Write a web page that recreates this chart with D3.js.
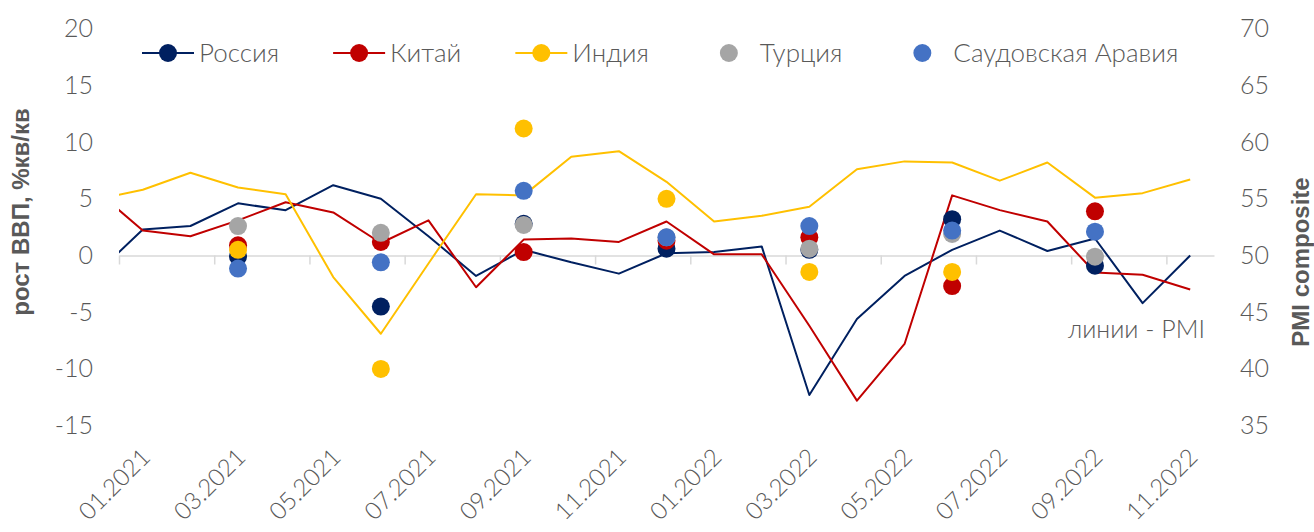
<!DOCTYPE html>
<html>
<head>
<meta charset="utf-8">
<script src="https://cdn.jsdelivr.net/npm/d3@7"></script>
<style>
  body { margin: 0; background: #fff; }
  #graf { width: 1314px; height: 532px; }
  .thin { font-family: Lato, 'Open Sans', sans-serif; font-weight: 300; fill: #595959; }
  .titulo { font-family: 'Liberation Sans', Arial, sans-serif; font-weight: bold; fill: #595959; }
</style>
</head>
<body>
<div id="graf"></div>
<script>
// I. Datos
months = ['01.2021', '02.2021', '03.2021', '04.2021', '05.2021', '06.2021', '07.2021', '08.2021',
          '09.2021', '10.2021', '11.2021', '12.2021', '01.2022', '02.2022', '03.2022', '04.2022',
          '05.2022', '06.2022', '07.2022', '08.2022', '09.2022', '10.2022', '11.2022']
// PMI empieza un mes antes (12.2020), la línea se corta en el borde
pmiMonths = ['12.2020'].concat(months)

pmiRussia = [48.3, 52.3, 52.6, 54.6, 54.0, 56.2, 55.0, 51.7, 48.2, 50.5, 49.4, 48.4, 50.2,
             50.3, 50.8, 37.7, 44.4, 48.2, 50.5, 52.2, 50.4, 51.5, 45.8, 50.0]
pmiChina  = [55.8, 52.2, 51.7, 53.1, 54.7, 53.8, 51.1, 53.1, 47.2, 51.4, 51.5, 51.2, 53.0,
             50.1, 50.1, 43.8, 37.2, 42.2, 55.3, 54.0, 53.0, 48.5, 48.3, 47.0]
pmiIndia  = [54.9, 55.8, 57.3, 56.0, 55.4, 48.1, 43.1, 49.3, 55.4, 55.3, 58.7, 59.2, 56.5,
             53.0, 53.5, 54.3, 57.6, 58.3, 58.2, 56.6, 58.2, 55.1, 55.5, 56.7]

quarters = ['03.2021', '06.2021', '09.2021', '12.2021', '03.2022', '06.2022', '09.2022']
gdpRussia = [-0.1, -4.5, 2.8, 0.6, 0.5, 3.2, -0.9]
gdpChina  = [0.9, 1.2, 0.3, 1.3, 1.6, -2.7, 3.9]
gdpIndia  = [0.5, -10.0, 11.2, 5.0, -1.45, -1.45, null]
gdpTurkey = [2.6, 2.0, 2.7, 1.6, 0.6, 1.9, -0.1]
gdpSaudi  = [-1.15, -0.6, 5.7, 1.6, 2.6, 2.2, 2.1]

leftTicks  = [20, 15, 10, 5, 0, -5, -10, -15]
rightTicks = [70, 65, 60, 55, 50, 45, 40, 35]
labelMonths = months.filter((m, i) => i % 2 == 0)

seriesNames = ['Россия', 'Китай', 'Индия', 'Турция', 'Саудовская Аравия']

// II. Configuración
colores = ['#002060', '#C00000', '#FFC000', '#A5A5A5', '#4472C4']

ancho_total = 1314
alto_total = 532
margins = { top: 28.7, left: 119, right: 100, bottom: 106.4 }
ancho = ancho_total - margins.left - margins.right
alto  = alto_total - margins.top - margins.bottom

graf = d3.select('#graf')
svg = graf.append('svg')
          .attr('width', ancho_total)
          .attr('height', alto_total)

g = svg.append('g')
       .attr('transform', `translate(${ margins.left }, ${ margins.top })`)

// escala x por índice de mes: las categorías van "entre marcas"
x = d3.scaleLinear()
      .domain([-0.5, months.length - 0.5])
      .range([0, ancho])
xMonth = m => x(months.indexOf(m))
xPmi = m => x(pmiMonths.indexOf(m) - 1)

yL = d3.scaleLinear().domain([-15, 20]).range([alto, 0])
yR = d3.scaleLinear().domain([35, 70]).range([alto, 0])

// III. Ejes
// guion normal en vez del signo menos de d3
formato = d => String(d)

ejeIzq = g.append('g')
  .attr('class', 'thin')
  .call(d3.axisLeft(yL).tickValues(leftTicks).tickFormat(formato).tickSize(0).tickPadding(26))
ejeIzq.select('.domain').remove()

ejeDer = g.append('g')
  .attr('class', 'thin')
  .attr('transform', `translate(${ ancho }, 0)`)
  .call(d3.axisRight(yR).tickValues(rightTicks).tickFormat(formato).tickSize(0).tickPadding(26))
ejeDer.select('.domain').remove()

svg.selectAll('.thin .tick text')
   .attr('font-family', null)
   .attr('font-size', 25)
   .attr('fill', '#595959')

// eje de categorías sobre el cero, marcas cada 2 meses
boundaries = labelMonths.map(m => months.indexOf(m) - 0.5)
ejeX = g.append('g')
  .attr('transform', `translate(0, ${ yL(0) })`)
  .call(d3.axisBottom(x).tickValues(boundaries).tickSizeInner(9).tickSizeOuter(0).tickFormat(''))
ejeX.selectAll('path, line').attr('stroke', '#D9D9D9').attr('stroke-width', 1.5)

// etiquetas abajo (posición "baja")
g.append('g')
  .selectAll('text')
  .data(labelMonths)
  .enter()
  .append('text')
    .attr('class', 'thin')
    .attr('font-size', 24)
    .attr('text-anchor', 'end')
    .attr('transform', d => `translate(${ xMonth(d) + 9 }, ${ alto + 33 }) rotate(-45)`)
    .text(d => d)

// títulos de ejes
svg.append('text')
   .attr('class', 'titulo')
   .attr('font-size', 24)
   .attr('text-anchor', 'middle')
   .attr('transform', 'translate(29, 212) rotate(-90)')
   .text('рост ВВП, %кв/кв')

svg.append('text')
   .attr('class', 'titulo')
   .attr('font-size', 24)
   .attr('text-anchor', 'middle')
   .attr('transform', 'translate(1309, 262) rotate(-90)')
   .text('PMI composite')

g.append('text')
 .attr('class', 'thin')
 .attr('font-size', 25)
 .attr('text-anchor', 'end')
 .attr('x', ancho - 9)
 .attr('y', yL(-7.3))
 .text('линии - PMI')

// IV. Líneas PMI
svg.append('defs').append('clipPath')
   .attr('id', 'recorte')
   .append('rect')
   .attr('width', ancho)
   .attr('height', alto)

linea = d3.line()
          .x((d, i) => xPmi(pmiMonths[i]))
          .y(d => yR(d))

lineas = g.append('g').attr('clip-path', 'url(#recorte)')
;[pmiRussia, pmiChina, pmiIndia].forEach((serie, k) => {
  lineas.append('path')
        .datum(serie)
        .attr('d', linea)
        .attr('fill', 'none')
        .attr('stroke', colores[k])
        .attr('stroke-width', 2)
        .attr('stroke-linejoin', 'round')
})

// V. Puntos PIB
;[gdpRussia, gdpChina, gdpIndia, gdpTurkey, gdpSaudi].forEach((serie, k) => {
  g.append('g')
   .selectAll('circle')
   .data(serie.map((v, i) => ({ q: quarters[i], v: v })).filter(d => d.v != null))
   .enter()
   .append('circle')
     .attr('cx', d => xMonth(d.q))
     .attr('cy', d => yL(d.v))
     .attr('r', 9)
     .attr('fill', colores[k])
})

// VI. Leyenda
leyenda = svg.append('g').attr('transform', 'translate(142, 53)')
posx = 0
seriesNames.forEach((nombre, k) => {
  item = leyenda.append('g').attr('transform', `translate(${ posx }, 0)`)
  if (k < 3) {
    item.append('line')
        .attr('x1', 0).attr('x2', 52)
        .attr('stroke', colores[k])
        .attr('stroke-width', 2)
  }
  item.append('circle')
      .attr('cx', 26)
      .attr('r', 9)
      .attr('fill', colores[k])
  txt = item.append('text')
      .attr('class', 'thin')
      .attr('font-size', 26)
      .attr('x', 57)
      .attr('dy', '0.35em')
      .text(nombre)
  posx += 57 + txt.node().getComputedTextLength() + 54
})
</script>
</body>
</html>
